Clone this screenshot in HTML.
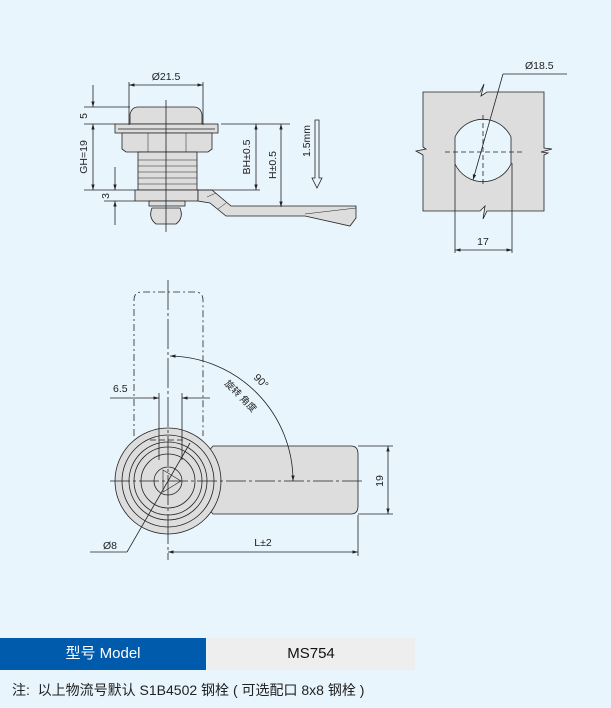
<!DOCTYPE html>
<html><head><meta charset="utf-8"><style>
html,body{margin:0;padding:0;background:#e8f5fd;}
body{width:611px;height:708px;position:relative;overflow:hidden;font-family:"Liberation Sans","Noto Sans CJK SC",sans-serif;}
svg{position:absolute;left:0;top:0;}
.b{position:absolute;top:638px;height:32px;line-height:32px;text-align:center;font-size:15px;}
</style></head><body>
<svg width="611" height="638" viewBox="0 0 611 638" font-family="Liberation Sans, Noto Sans CJK SC, sans-serif" font-size="10" fill="none" stroke="#222" stroke-width="0.8">
<defs><marker id="a" viewBox="0 0 10 10" refX="10" refY="5" markerWidth="7" markerHeight="7" orient="auto-start-reverse"><path d="M0,2 L10,5 L0,8z" fill="#222" stroke="none"/></marker></defs>
<!-- side view -->
<g fill="#ddd">
<path d="M130,124 L130,114 Q132,107 138,107 L194,107 Q200,107 202,114 L202,124z"/>
<rect x="115" y="124" width="103" height="9"/>
<line x1="118" y1="129" x2="215" y2="129"/>
<path d="M122,133 L212,133 L212,149 L208,152 L126,152 L122,149z"/>
<rect x="138" y="152" width="59" height="38"/>
<rect x="135" y="190" width="63" height="11"/>
<rect x="149" y="201" width="36" height="5"/>
<path d="M152,208 L180,208 Q184,218 176,224 L156,224 Q148,218 152,208z"/>
<path d="M198,190 L212,190 L231,206 L356,206 L356,218 L350,226 L305,216 L226,216 L210,203 L198,201z"/>
</g>
<g stroke-width="0.5"><line x1="148" y1="133" x2="148" y2="152"/><line x1="186" y1="133" x2="186" y2="152"/>
<line x1="138" y1="160" x2="197" y2="160"/><line x1="138" y1="166" x2="197" y2="166"/><line x1="138" y1="172" x2="197" y2="172"/><line x1="138" y1="178" x2="197" y2="178"/><line x1="138" y1="184" x2="197" y2="184"/>
<line x1="207" y1="197" x2="216" y2="193"/><line x1="218" y1="209" x2="226" y2="203"/><line x1="305" y1="214" x2="356" y2="208"/></g>
<line x1="166" y1="100" x2="166" y2="232"/>
<line x1="129" y1="82" x2="129" y2="125"/><line x1="203" y1="82" x2="203" y2="125"/>
<line x1="129" y1="85" x2="203" y2="85" marker-start="url(#a)" marker-end="url(#a)"/>
<line x1="84" y1="107" x2="130" y2="107"/><line x1="84" y1="124" x2="115" y2="124"/><line x1="84" y1="190" x2="135" y2="190"/>
<line x1="93" y1="85" x2="93" y2="107" marker-end="url(#a)"/>
<line x1="93" y1="124" x2="93" y2="190" marker-start="url(#a)" marker-end="url(#a)"/>
<line x1="104" y1="201" x2="135" y2="201"/>
<line x1="115" y1="167" x2="115" y2="190" marker-end="url(#a)"/><line x1="115" y1="201" x2="115" y2="225" marker-start="url(#a)"/>
<line x1="221" y1="124" x2="290" y2="124"/><line x1="198" y1="190" x2="260" y2="190"/>
<line x1="256" y1="124" x2="256" y2="190" marker-start="url(#a)" marker-end="url(#a)"/>
<line x1="281" y1="124" x2="281" y2="207" marker-start="url(#a)" marker-end="url(#a)"/>
<path d="M315,120 L315,178 L312,178 L317,188 L322,178 L319,178 L319,120z" fill="none"/>
<g fill="#222" stroke="none" font-size="10.5">
<text x="166" y="80" text-anchor="middle">Ø21.5</text>
<text transform="translate(87,116) rotate(-90)" text-anchor="middle">5</text>
<text transform="translate(87,157) rotate(-90)" text-anchor="middle">GH=19</text>
<text transform="translate(109,196) rotate(-90)" text-anchor="middle">3</text>
<text transform="translate(250,157) rotate(-90)" text-anchor="middle">BH±0.5</text>
<text transform="translate(276,165) rotate(-90)" text-anchor="middle">H±0.5</text>
<text transform="translate(310,141) rotate(-90)" text-anchor="middle">1.5mm</text>
</g>
<!-- right view -->
<path d="M423,92 L480,92 L484,84 L481,96 L487,92 L544,92 L544,148 L552,149 L541,152 L548,153 L544,155 L544,211 L487,211 L483,219 L485,206 L480,211 L423,211 L423,155 L416,151 L426,149 L423,147z" fill="#ddd"/>
<path d="M455,137 A31,31 0 0 1 511,137 L511,164 A31,31 0 0 1 455,164z" fill="#e8f5fd"/>
<g stroke-dasharray="5,3"><line x1="445" y1="152" x2="525" y2="152"/><line x1="483" y1="115" x2="483" y2="185"/></g>
<line x1="503" y1="74" x2="473" y2="180" marker-end="url(#a)"/><line x1="503" y1="74" x2="567" y2="74"/>
<line x1="455" y1="164" x2="455" y2="253"/><line x1="512" y1="163" x2="512" y2="253"/>
<line x1="455" y1="250" x2="512" y2="250" marker-start="url(#a)" marker-end="url(#a)"/>
<g fill="#222" stroke="none" font-size="10.5"><text x="525" y="69">Ø18.5</text><text x="483" y="245" text-anchor="middle">17</text></g>
<!-- bottom view -->
<path d="M134,436 L134,300 Q134,292 142,292 L195,292 Q203,292 203,300 L203,436" stroke-dasharray="7,3,2,3"/>
<path d="M213,446 L351,446 Q358,446 358,454 L358,506 Q358,514 351,514 L213,514 L205,505 L205,455z" fill="#ddd"/>
<circle cx="168" cy="481" r="53" fill="#ddd"/>
<circle cx="168" cy="481" r="46"/><circle cx="168" cy="481" r="39"/><circle cx="168" cy="481" r="34"/><circle cx="168" cy="481" r="27"/><circle cx="168" cy="481" r="14"/>
<path d="M163,470 L181,481 L163,492z" stroke-width="0.6"/>
<line x1="150" y1="440" x2="186" y2="440" stroke-dasharray="6,3"/>
<line x1="110" y1="481" x2="362" y2="481" stroke-dasharray="20,3,3,3"/>
<line x1="168" y1="280" x2="168" y2="560" stroke-dasharray="30,3,3,3"/>
<path d="M170,356 A125,125 0 0 1 293,481" marker-start="url(#a)" marker-end="url(#a)"/>
<line x1="159" y1="393" x2="159" y2="460"/><line x1="182" y1="393" x2="182" y2="460"/>
<line x1="110" y1="398" x2="159" y2="398" marker-end="url(#a)"/><line x1="210" y1="398" x2="182" y2="398" marker-end="url(#a)"/>
<line x1="358" y1="446" x2="393" y2="446"/><line x1="358" y1="514" x2="393" y2="514"/>
<line x1="388" y1="446" x2="388" y2="514" marker-start="url(#a)" marker-end="url(#a)"/>
<line x1="358" y1="515" x2="358" y2="556"/>
<line x1="168" y1="552" x2="358" y2="552" marker-start="url(#a)" marker-end="url(#a)"/>
<line x1="190" y1="443" x2="127" y2="552"/><line x1="127" y1="552" x2="90" y2="552"/>
<g fill="#222" stroke="none" font-size="10.5">
<text x="113" y="392">6.5</text>
<text x="263" y="546" text-anchor="middle">L±2</text>
<text x="103" y="549">Ø8</text>
<text transform="translate(383,481) rotate(-90)" text-anchor="middle">19</text>
<text transform="translate(253,378) rotate(45)">90°</text>
<text transform="translate(224,384) rotate(45)" font-size="9.5">旋转 角度</text>
</g>
</svg>
<div class="b" style="left:0;width:206px;background:#005bac;color:#fff;">型号 Model</div>
<div class="b" style="left:207px;width:208px;background:#eeeeee;color:#111;">MS754</div>
<div style="position:absolute;left:12px;top:680px;font-size:14px;color:#222;">注:&nbsp; 以上物流号默认 S1B4502 钢栓 ( 可选配口 8x8 钢栓 )</div>
</body></html>
